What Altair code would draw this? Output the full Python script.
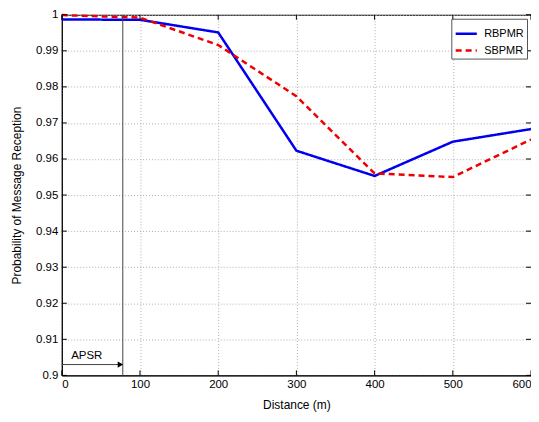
import altair as alt
import pandas as pd

distance = [0, 100, 200, 300, 400, 500, 600]
rbpmr = [0.9987, 0.9986, 0.9951, 0.9623, 0.9553, 0.9648, 0.9683]
sbpmr = [0.9999, 0.9992, 0.9916, 0.9774, 0.9560, 0.9550, 0.9654]
apsr = 78
x_ticks = [0, 100, 200, 300, 400, 500, 600]
y_ticks = [0.9, 0.91, 0.92, 0.93, 0.94, 0.95, 0.96, 0.97, 0.98, 0.99, 1.0]

rows = []
for d, a, b in zip(distance, rbpmr, sbpmr):
    rows.append({"d": d, "p": a, "s": "RBPMR"})
    rows.append({"d": d, "p": b, "s": "SBPMR"})
df = pd.DataFrame(rows)

W, H = 471, 362
FONT = "Liberation Sans"
XT = "Distance (m)"
YT = "Probability of Message Reception"

xs = alt.Scale(domain=[0, 600], nice=False)
ys = alt.Scale(domain=[0.9, 1.0], nice=False, zero=False)
xax = alt.Axis(values=x_ticks, format="d", grid=True, gridDash=[1, 2],
               gridColor="#b0b0b0", tickSize=0, labelPadding=3,
               domainColor="black", titlePadding=10, labelOverlap=False)
yax = alt.Axis(values=y_ticks,
               labelExpr="datum.value == 1 || datum.value == 0.9 ? format(datum.value, '') : format(datum.value, '.2f')",
               grid=True, gridDash=[1, 2], gridColor="#b0b0b0", labelOverlap=False,
               tickSize=0, labelPadding=4, domainColor="black", titlePadding=12)


def X(f):
    return alt.X(f, scale=xs, axis=xax, title=XT)


def Y(f):
    return alt.Y(f, scale=ys, axis=yax, title=YT)


lines = alt.Chart(df).mark_line(strokeWidth=2.5).encode(
    x=X("d:Q"),
    y=Y("p:Q"),
    color=alt.Color("s:N", scale=alt.Scale(domain=["RBPMR", "SBPMR"], range=["#0000ee", "#ee0000"]),
                    legend=alt.Legend(title=None, orient="top-right", offset=4,
                                      fillColor="white", strokeColor="#555",
                                      padding=3, symbolType="stroke", symbolStrokeWidth=2.5,
                                      symbolSize=450, labelFontSize=11, labelFont=FONT,
                                      rowPadding=0, labelOffset=6)),
    strokeDash=alt.StrokeDash("s:N", scale=alt.Scale(domain=["RBPMR", "SBPMR"], range=[[1, 0], [6, 4]]),
                              legend=None),
)

xt = pd.DataFrame({"v": x_ticks})
yt = pd.DataFrame({"v": y_ticks})
xtick_b = alt.Chart(xt).mark_rule(color="black").encode(
    x=X("v:Q"), y=alt.value(H), y2=alt.value(H - 5))
xtick_t = alt.Chart(xt).mark_rule(color="black").encode(
    x=X("v:Q"), y=alt.value(0), y2=alt.value(5))
ytick_l = alt.Chart(yt).mark_rule(color="black").encode(
    y=Y("v:Q"), x=alt.value(0), x2=alt.value(5))
ytick_r = alt.Chart(yt).mark_rule(color="black").encode(
    y=Y("v:Q"), x=alt.value(W), x2=alt.value(W - 5))

vline = alt.Chart(pd.DataFrame({"x": [apsr], "y0": [0.9], "y1": [1.0]})).mark_rule(
    color="#444", strokeWidth=1).encode(x=X("x:Q"), y=Y("y0:Q"), y2="y1:Q")
arrow = alt.Chart(pd.DataFrame({"x0": [0], "x1": [apsr - 3], "y": [0.903]})).mark_rule(
    color="#444", strokeWidth=1).encode(x=X("x0:Q"), x2="x1:Q", y=Y("y:Q"))
head = alt.Chart(pd.DataFrame({"x": [apsr - 3], "y": [0.903]})).mark_point(
    shape="triangle-right", filled=True, color="black", size=40, opacity=1).encode(
    x=X("x:Q"), y=Y("y:Q"))
label = alt.Chart(pd.DataFrame({"x": [12], "y": [0.9055], "t": ["APSR"]})).mark_text(
    align="left", baseline="middle", font=FONT, fontSize=11.5, color="black").encode(
    x=X("x:Q"), y=Y("y:Q"), text="t:N")

chart = alt.layer(lines, xtick_b, xtick_t, ytick_l, ytick_r, vline, arrow, head, label).properties(
    width=W, height=H,
    autosize=alt.AutoSizeParams(type="none"),
    padding={"left": 54, "top": 6, "right": 0, "bottom": 40},
).configure_view(stroke="black", strokeWidth=1).configure_axis(
    labelFont=FONT, titleFont=FONT, labelFontSize=11.5, titleFontSize=12,
    titleFontWeight="normal", labelColor="black", titleColor="black",
)

chart.save("out.html", embed_options={"renderer": "svg", "actions": False})
